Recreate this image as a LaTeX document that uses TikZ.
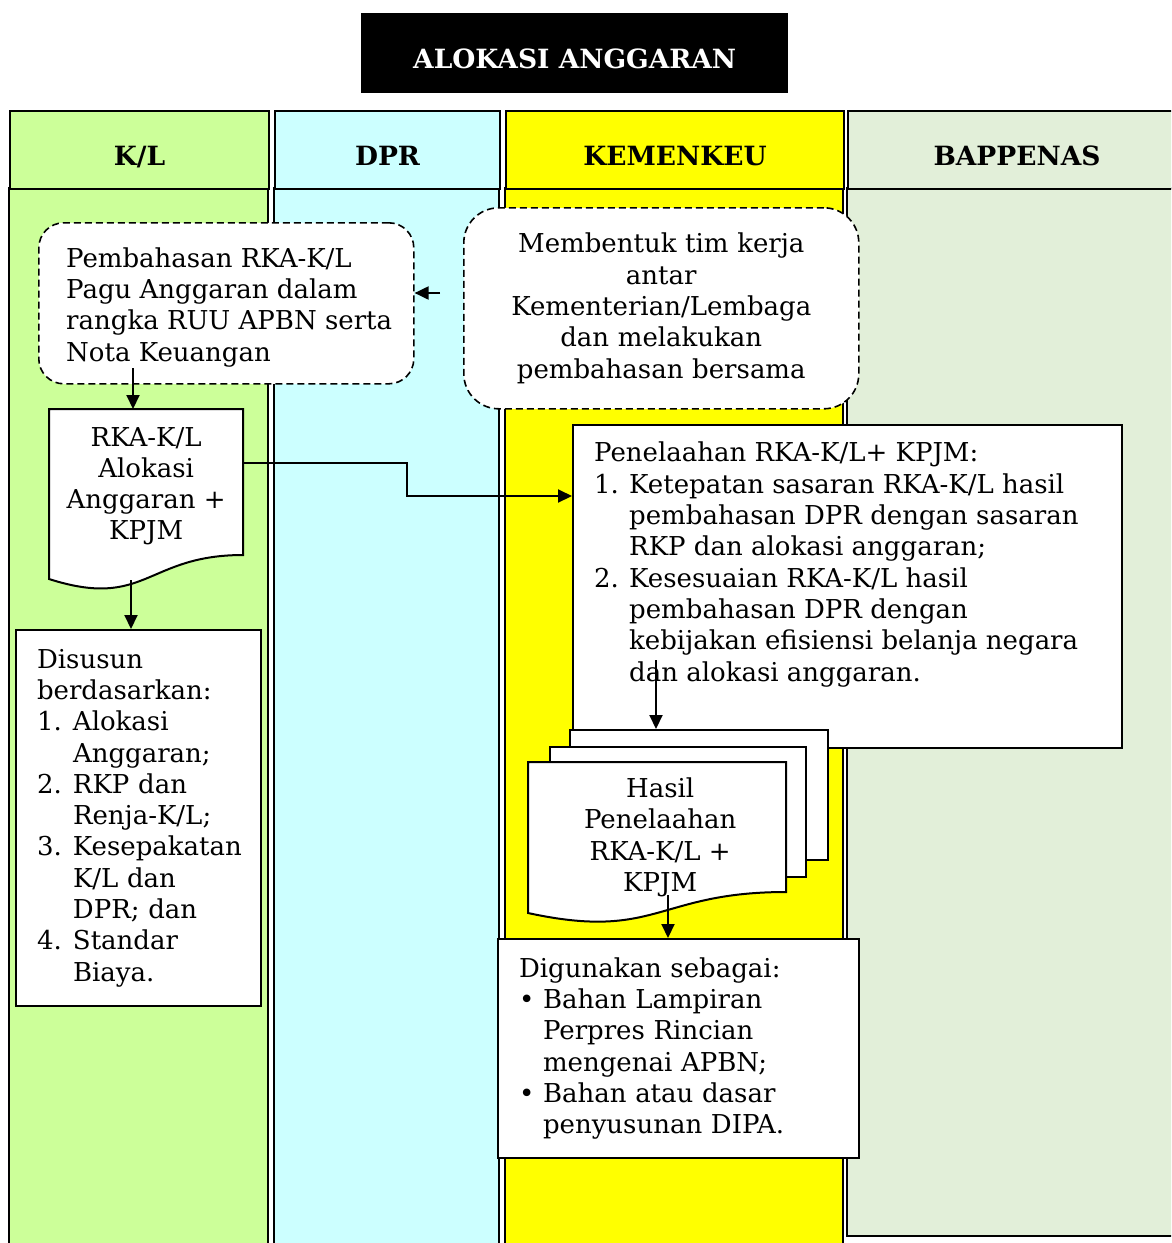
\documentclass[tikz,border=0pt]{standalone}
\usepackage{fontspec}
\setmainfont{DejaVu Serif}
\usepackage{tikz}
\usetikzlibrary{arrows.meta, positioning}

\definecolor{klgreen}{RGB}{204,255,153}
\definecolor{dprcyan}{RGB}{204,255,255}
\definecolor{kmkyellow}{RGB}{255,255,0}
\definecolor{bapgreen}{RGB}{226,239,217}

\tikzset{
  lane/.style = {draw, line width = 2pt},
  head/.style = {font = \fontsize{26.5}{30}\selectfont\bfseries, inner sep = 0pt, text height = 31pt, text depth = 0pt},
  txt/.style = {font = \fontsize{26}{31.3}\selectfont, align = left, inner sep = 0pt},
  box/.style = {draw, fill = white, line width = 2pt},
  dbox/.style = {box, line width = 1.6pt, dash pattern = on 7pt off 4pt},
  arr/.style = {line width = 2pt, -{Triangle[length = 14pt, width = 13pt]}}
}

\begin{document}
\begin{tikzpicture}[x = 1pt, y = -1pt]
\clip (0,0) rectangle (1171,1243);
\fill [white] (0,0) rectangle (1171,1243);
\node [fill = black, text = white, head, minimum width = 427, minimum height = 80, anchor = north west] (title) at (361,13) {ALOKASI ANGGARAN};

\draw [lane, fill = klgreen] (9,188) rectangle (268,1260);
\draw [lane, fill = dprcyan] (274,188) rectangle (499,1260);
\draw [lane, fill = kmkyellow] (505,188) rectangle (843,1260);
\draw [lane, fill = bapgreen] (847,188) rectangle (1185,1236);
\node [lane, fill = klgreen, head, minimum width = 259, minimum height = 78, anchor = north west] (kl) at (9,110) {K/L};
\node [lane, fill = dprcyan, head, minimum width = 225, minimum height = 78, anchor = north west] (dpr) at (274,110) {DPR};
\node [lane, fill = kmkyellow, head, minimum width = 338, minimum height = 78, anchor = north west] (kmk) at (505,110) {KEMENKEU};
\node [lane, fill = bapgreen, head, minimum width = 338, minimum height = 78, anchor = north west] (bap) at (847,110) {BAPPENAS};

\node [dbox, txt, rounded corners = 25, minimum width = 375, minimum height = 161, text width = 319, anchor = north west] (bahas) at (38,222) {};
\node [txt, anchor = west] (bahast) at ([xshift = 28, yshift = -4]bahas.west) {Pembahasan RKA-K/L\\Pagu Anggaran dalam\\rangka RUU APBN serta\\Nota Keuangan};
\node [dbox, txt, align = center, rounded corners = 35, minimum width = 395, minimum height = 201, text width = 380, anchor = north west] (tim) at (463,207) {Membentuk tim kerja\\antar\\Kementerian/Lembaga\\dan melakukan\\pembahasan bersama};

\draw [box] (49,409) -- (243,409) -- (243,555) .. controls (146,555) and (146,610) .. (49,579) -- cycle;
\node [txt, align = center, minimum width = 194, minimum height = 154, anchor = north west] (rka) at (49,409) {RKA-K/L\\Alokasi\\Anggaran +\\KPJM};

\node [box, txt, minimum width = 245, minimum height = 376, text width = 203, anchor = north west] (susun) at (15,629) {Disusun\\berdasarkan:\\\makebox[36pt][l]{1.}Alokasi\\\hspace*{36pt}Anggaran;\\\makebox[36pt][l]{2.}RKP dan\\\hspace*{36pt}Renja-K/L;\\\makebox[36pt][l]{3.}Kesepakatan\\\hspace*{36pt}K/L dan\\\hspace*{36pt}DPR; dan\\\makebox[36pt][l]{4.}Standar\\\hspace*{36pt}Biaya.};

\node [box, minimum width = 549, minimum height = 323, anchor = north west] (telaah) at (572,424) {};
\node [txt, anchor = north west] (telaaht) at (594,442) {Penelaahan RKA-K/L+ KPJM:\\\makebox[35pt][l]{1.}Ketepatan sasaran RKA-K/L hasil\\\hspace*{35pt}pembahasan DPR dengan sasaran\\\hspace*{35pt}RKP dan alokasi anggaran;\\\makebox[35pt][l]{2.}Kesesuaian RKA-K/L hasil\\\hspace*{35pt}pembahasan DPR dengan\\\hspace*{35pt}kebijakan efisiensi belanja negara\\\hspace*{35pt}dan alokasi anggaran.};

\node [box, minimum width = 258, minimum height = 130, anchor = north west] (pg3) at (569,729) {};
\node [box, minimum width = 256, minimum height = 130, anchor = north west] (pg2) at (549,746) {};
\draw [box] (528,762) -- (786,762) -- (786,892) .. controls (657,892) and (657,941) .. (528,913) -- cycle;
\node [txt, align = center, minimum width = 264, minimum height = 150, anchor = north west] (hasil) at (528,762) {Hasil\\Penelaahan\\RKA-K/L +\\KPJM};

\node [box, txt, minimum width = 361, minimum height = 219, text width = 319, anchor = north west] (guna) at (497,938) {Digunakan sebagai:\\\makebox[24pt][l]{•}Bahan Lampiran\\\hspace*{24pt}Perpres Rincian\\\hspace*{24pt}mengenai APBN;\\\makebox[24pt][l]{•}Bahan atau dasar\\\hspace*{24pt}penyusunan DIPA.};

\coordinate (p1) at (440,293);
\coordinate (p2) at (133,368);
\coordinate (p3) at (243,463);
\coordinate (p4) at (407,496);
\coordinate (p5) at (131,580);
\coordinate (p6) at (656,660);
\coordinate (p7) at (668,895);
\draw [arr] (p1) -- (p1 -| bahas.east);
\draw [arr] (p2) -- (p2 |- rka.north);
\draw [arr] (p3) -| (p4) -- (p4 -| telaah.west);
\draw [arr] (p5) -- (p5 |- susun.north);
\draw [arr] (p6) -- (p6 |- pg3.north);
\draw [arr] (p7) -- (p7 |- guna.north);
\end{tikzpicture}
\end{document}
